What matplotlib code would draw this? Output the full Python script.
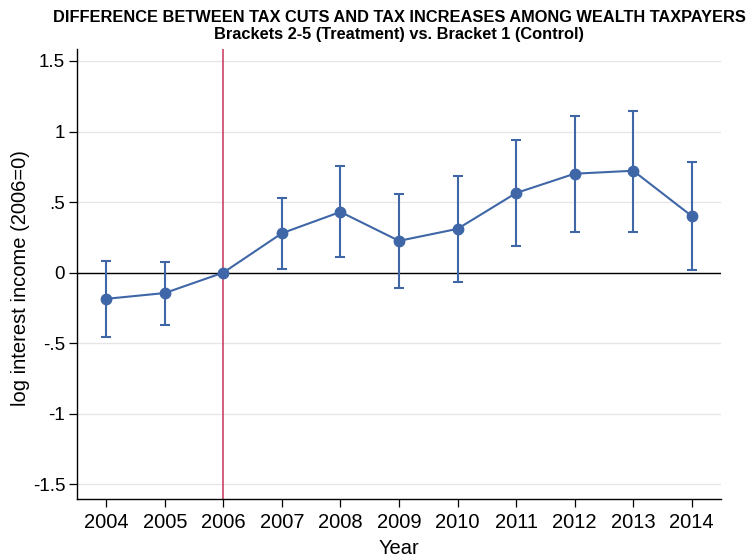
import matplotlib.pyplot as plt
import numpy as np

# coefficients and 95% CI
years = [2004, 2005, 2006, 2007, 2008, 2009, 2010, 2011, 2012, 2013, 2014]
coef = [-0.186, -0.145, 0.0, 0.279, 0.430, 0.225, 0.310, 0.564, 0.701, 0.722, 0.401]
ci_low = [-0.455, -0.368, 0.0, 0.025, 0.108, -0.107, -0.065, 0.190, 0.291, 0.291, 0.020]
ci_high = [0.085, 0.078, 0.0, 0.530, 0.754, 0.555, 0.684, 0.941, 1.111, 1.148, 0.783]
yticks = [-1.5, -1, -0.5, 0, 0.5, 1, 1.5]
ytick_labels = ['-1.5', '-1', '-.5', '0', '.5', '1', '1.5']

plt.rcParams['font.family'] = ['Liberation Sans', 'DejaVu Sans']

blue = '#3f67a8'
red = '#c8345a'

fig = plt.figure(figsize=(7.53, 5.6), dpi=100)
ax = fig.add_axes([77 / 753, 61 / 560, 644 / 753, 450 / 560])

coef = np.array(coef)
yerr = [coef - np.array(ci_low), np.array(ci_high) - coef]

# grid, reference lines
for t in yticks:
    ax.axhline(t, color='#e6e6e6', lw=1, zorder=0)
ax.axhline(0, color='black', lw=1, zorder=1)
ax.axvline(2006, color=red, lw=1.1, zorder=1)

# estimates with CI
ax.errorbar(years, coef, yerr=yerr, fmt='o-', color=blue, ms=7.5,
            lw=1.5, elinewidth=1.5, capsize=3.6, capthick=1.5, zorder=3)

ax.set_xlim(2003.5, 2014.5)
ax.set_ylim(-1.605, 1.585)
ax.set_xticks(years)
ax.set_yticks(yticks)
ax.set_yticklabels(ytick_labels)
ax.tick_params(axis='both', length=5.5, width=0.9, direction='out')
ax.tick_params(axis='x', labelsize=14.5, pad=4.5)
ax.tick_params(axis='y', labelsize=13.5, pad=3)

for s in ['top', 'right']:
    ax.spines[s].set_visible(False)
ax.spines['left'].set_linewidth(1)
ax.spines['bottom'].set_linewidth(1)

ax.set_xlabel('Year', fontsize=14.5)
ax.xaxis.set_label_coords(0.5, -(548 - 499) / 450)
ax.xaxis.label.set_va('center')
ax.set_ylabel('log interest income (2006=0)', fontsize=14.5)
ax.yaxis.set_label_coords(-(77 - 21) / 644, 0.49)
ax.yaxis.label.set_va('center')

cx = (77 + 721) / 2 / 753
fig.text(cx, 1 - 17 / 560, 'DIFFERENCE BETWEEN TAX CUTS AND TAX INCREASES AMONG WEALTH TAXPAYERS',
         ha='center', va='center', fontsize=11.8, fontweight='bold')
fig.text(cx, 1 - 35 / 560, 'Brackets 2-5 (Treatment) vs. Bracket 1 (Control)',
         ha='center', va='center', fontsize=11.8, fontweight='bold')

fig.savefig('out.png', dpi=100)
